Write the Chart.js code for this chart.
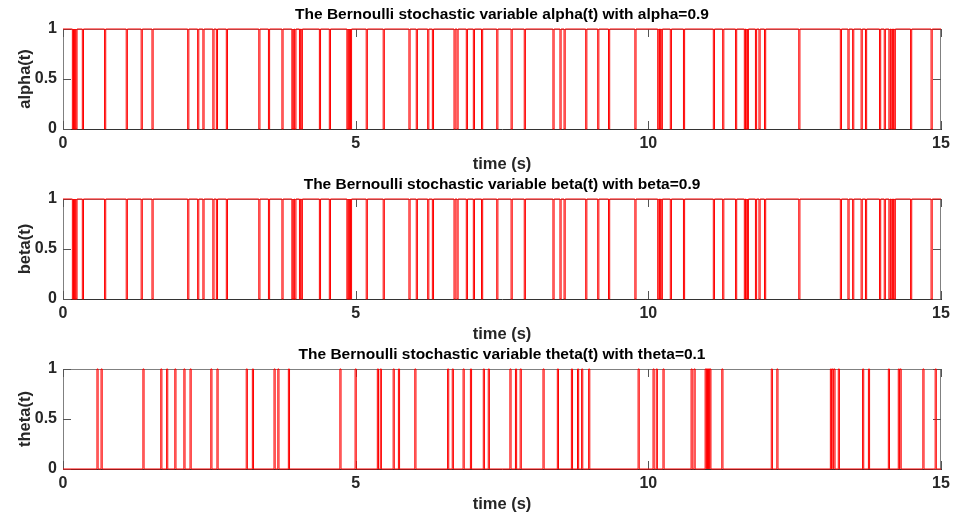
<!DOCTYPE html>
<html>
<head>
<meta charset="utf-8">
<script src="https://cdn.jsdelivr.net/npm/chart.js@4.4.0/dist/chart.umd.min.js"></script>
<style>
  body { margin:0; background:#fff; }
  .panel { position:absolute; left:0; width:960px; height:174px; }
</style>
</head>
<body>
<div class="panel" style="top:0px"><canvas id="alphaChart"></canvas></div>
<div class="panel" style="top:170px"><canvas id="betaChart"></canvas></div>
<div class="panel" style="top:340px"><canvas id="thetaChart"></canvas></div>
<script>
// times (s) where alpha(t) drops to 0 for one sample
const alphaDips = [0.16, 0.18, 0.20, 0.22, 0.33, 0.71, 1.08, 1.335, 1.52, 2.13, 2.30, 2.39, 2.56, 2.62, 2.79,
  3.345, 3.51, 3.74, 3.91, 3.93, 3.96, 4.04, 4.07, 4.38, 4.55, 4.85, 4.87, 4.89, 4.91,
  5.18, 5.47, 5.91, 6.035, 6.23, 6.31, 6.68, 6.73, 6.89, 7.01, 7.15, 7.41, 7.655, 7.88,
  8.37, 8.49, 8.56, 8.93, 9.135, 9.32, 9.77, 10.16, 10.19, 10.22, 10.375, 10.60,
  11.11, 11.27, 11.49, 11.64, 11.67, 11.69, 11.83, 11.89, 11.985, 12.57,
  13.28, 13.41, 13.49, 13.635, 13.71, 13.95, 14.03, 14.11, 14.14, 14.17, 14.20, 14.48, 14.83];
// beta(t) looks identical to alpha(t) in the figure
const betaDips = [0.16, 0.18, 0.20, 0.22, 0.33, 0.71, 1.08, 1.335, 1.52, 2.13, 2.30, 2.39, 2.56, 2.62, 2.79,
  3.345, 3.51, 3.74, 3.91, 3.93, 3.96, 4.04, 4.07, 4.38, 4.55, 4.85, 4.87, 4.89, 4.91,
  5.18, 5.47, 5.91, 6.035, 6.23, 6.31, 6.68, 6.73, 6.89, 7.01, 7.15, 7.41, 7.655, 7.88,
  8.37, 8.49, 8.56, 8.93, 9.135, 9.32, 9.77, 10.16, 10.19, 10.22, 10.375, 10.60,
  11.11, 11.27, 11.49, 11.64, 11.67, 11.69, 11.83, 11.89, 11.985, 12.57,
  13.28, 13.41, 13.49, 13.635, 13.71, 13.95, 14.03, 14.11, 14.14, 14.17, 14.20, 14.48, 14.83];
// times (s) where theta(t) jumps to 1 for one sample
const thetaSpikes = [0.58, 0.65, 1.365, 1.67, 1.77, 1.91, 2.065, 2.17, 2.525, 2.63, 3.13, 3.235, 3.605, 3.67, 3.85,
  4.73, 4.99, 5.37, 5.42, 5.64, 5.73, 6.01, 6.57, 6.65, 6.835, 6.96, 7.18, 7.265, 7.635, 7.73, 7.81,
  8.20, 8.445, 8.685, 8.79, 8.86, 8.98, 9.825, 10.08, 10.135, 10.25, 10.73, 10.78,
  10.97, 10.99, 11.01, 11.03, 11.05, 11.255, 12.10, 12.195, 13.11, 13.14, 13.17, 13.245,
  13.66, 13.76, 14.10, 14.27, 14.30, 14.69, 14.90];
const xTicks = [0, 5, 10, 15];
const yTicks = [0, 0.5, 1];
const sampleTime = 0.02;
const tEnd = 15;

function toSteps(times, base, pulse) {
  const pts = [{x: 0, y: base}];
  times.forEach(function(t) {
    pts.push({x: t, y: pulse});
    pts.push({x: t + sampleTime, y: base});
  });
  pts.push({x: tEnd, y: base});
  return pts;
}

const FONT = '"Liberation Sans", Arial, sans-serif';

const boxPlugin = {
  id: 'matlabBox',
  beforeDatasetsDraw(chart) {
    const a = chart.chartArea, ctx = chart.ctx;
    const xs = chart.scales.x, ys = chart.scales.y;
    ctx.save();
    ctx.lineWidth = 1;
    ctx.strokeStyle = '#808080';
    ctx.beginPath();
    ctx.moveTo(a.left + 0.5, a.bottom); ctx.lineTo(a.left + 0.5, a.top + 0.5);
    ctx.lineTo(a.right - 0.5, a.top + 0.5); ctx.lineTo(a.right - 0.5, a.bottom);
    ctx.stroke();
    // inward tick marks
    ctx.beginPath();
    xTicks.forEach(function(v) {
      const px = Math.round(xs.getPixelForValue(v)) + 0.5;
      ctx.moveTo(px, a.bottom); ctx.lineTo(px, a.bottom - 8);
      ctx.moveTo(px, a.top); ctx.lineTo(px, a.top + 8);
    });
    yTicks.forEach(function(v) {
      const py = Math.round(ys.getPixelForValue(v)) + 0.5;
      ctx.moveTo(a.left, py); ctx.lineTo(a.left + 8, py);
      ctx.moveTo(a.right, py); ctx.lineTo(a.right - 8, py);
    });
    ctx.strokeStyle = '#555';
    ctx.stroke();
    ctx.restore();
  },
  afterDraw(chart, args, opts) {
    const a = chart.chartArea, ctx = chart.ctx;
    ctx.save();
    ctx.font = 'bold 15.5px ' + FONT;
    ctx.fillStyle = '#000';
    ctx.textAlign = 'center';
    ctx.textBaseline = 'middle';
    ctx.fillText(opts.text, (a.left + a.right) / 2, 15);
    ctx.restore();
  }
};

function makeChart(id, title, yLabel, points) {
  new Chart(document.getElementById(id), {
    type: 'line',
    data: {
      datasets: [{
        data: points,
        borderColor: 'rgb(255,0,0)',
        borderWidth: 1,
        pointRadius: 0,
        stepped: true,
        fill: false,
        clip: 3
      }]
    },
    plugins: [boxPlugin],
    options: {
      responsive: true,
      maintainAspectRatio: false,
      animation: false,
      layout: {padding: {top: 29, right: 19, left: 0, bottom: 0}},
      plugins: {
        legend: {display: false},
        tooltip: {enabled: false},
        matlabBox: {text: title}
      },
      scales: {
        x: {
          type: 'linear', min: 0, max: tEnd,
          afterBuildTicks: function(s) { s.ticks = xTicks.map(function(v) { return {value: v}; }); },
          ticks: {font: {family: FONT, size: 16, weight: 'bold'}, color: '#262626', padding: 5, maxRotation: 0,
                  callback: function(v) { return String(v); }},
          grid: {display: false, drawTicks: false},
          border: {display: true, color: '#333', width: 1},
          title: {display: true, text: 'time (s)', font: {family: FONT, size: 16.5, weight: 'bold'}, color: '#262626', padding: {top: 1, bottom: 0}},
          afterFit: function(s) { s.height = 45; }
        },
        y: {
          min: 0, max: 1,
          afterBuildTicks: function(s) { s.ticks = yTicks.map(function(v) { return {value: v}; }); },
          ticks: {font: {family: FONT, size: 16, weight: 'bold'}, color: '#262626', padding: 6,
                  callback: function(v) { return String(v); }},
          grid: {display: false, drawTicks: false},
          border: {display: false},
          title: {display: true, text: yLabel, font: {family: FONT, size: 16.5, weight: 'bold'}, color: '#262626', padding: {top: 16, bottom: 4}},
          afterFit: function(s) { s.width = 63; }
        }
      }
    }
  });
}

makeChart('alphaChart', 'The Bernoulli stochastic variable alpha(t) with alpha=0.9', 'alpha(t)', toSteps(alphaDips, 1, 0));
makeChart('betaChart', 'The Bernoulli stochastic variable beta(t) with beta=0.9', 'beta(t)', toSteps(betaDips, 1, 0));
makeChart('thetaChart', 'The Bernoulli stochastic variable theta(t) with theta=0.1', 'theta(t)', toSteps(thetaSpikes, 0, 1));
</script>
</body>
</html>
